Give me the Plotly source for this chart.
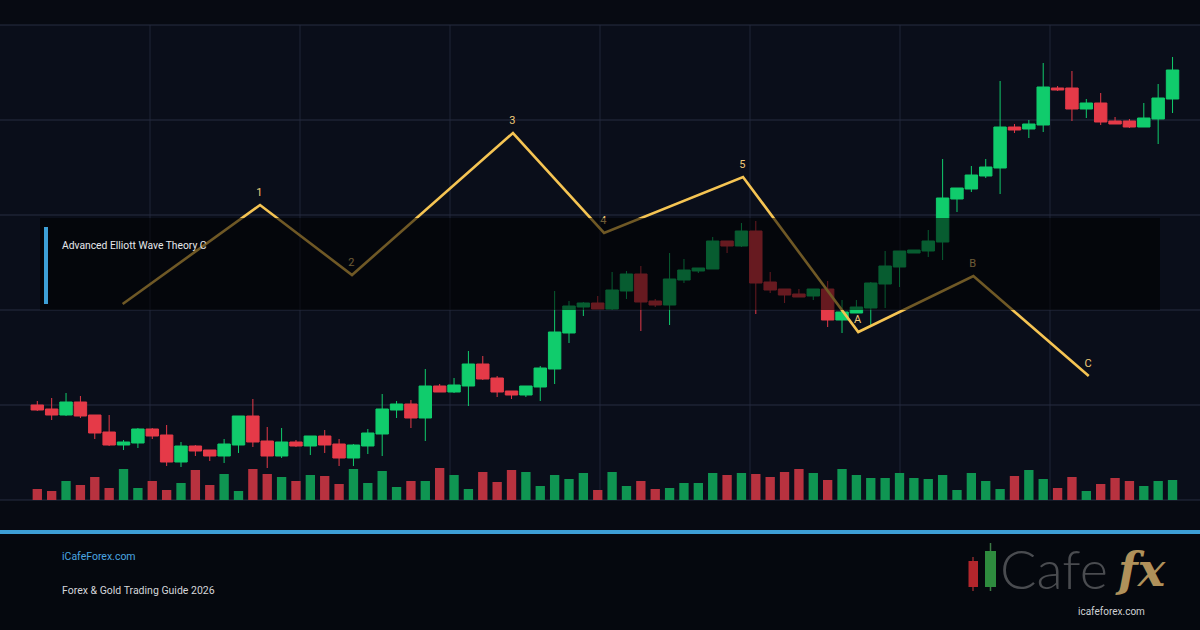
import plotly.graph_objects as go

# ---------------- data ----------------
opens = [2009.5, 2009.1, 2008.5, 2009.8, 2008.5, 2006.8, 2005.5, 2005.7, 2007.1, 2006.5,
         2003.8, 2005.4, 2005.0, 2004.4, 2005.5, 2008.4, 2005.9, 2004.4, 2005.8, 2005.4,
         2006.4, 2005.6, 2004.2, 2005.4, 2006.6, 2009.0, 2009.6, 2008.2, 2011.4, 2010.8,
         2011.4, 2013.6, 2012.2, 2010.9, 2010.5, 2011.3, 2013.1, 2016.7, 2019.3, 2019.7,
         2019.1, 2020.9, 2022.6, 2019.9, 2019.5, 2022.0, 2022.9, 2023.1, 2025.9, 2025.4,
         2026.9, 2021.8, 2021.1, 2020.6, 2020.4, 2021.1, 2018.0, 2018.7, 2019.2, 2021.6,
         2023.3, 2024.7, 2024.9, 2025.8, 2030.1, 2031.1, 2032.4, 2033.2, 2037.3, 2037.1,
         2037.5, 2041.2, 2041.2, 2039.1, 2039.7, 2037.9, 2037.9, 2037.3, 2038.1, 2040.1]
highs = [2009.9, 2010.2, 2010.7, 2010.4, 2008.5, 2008.5, 2006.0, 2007.2, 2007.2, 2007.5,
         2005.8, 2005.5, 2005.0, 2006.1, 2008.4, 2010.1, 2007.3, 2007.2, 2006.0, 2006.4,
         2007.0, 2006.1, 2005.6, 2007.1, 2010.6, 2009.9, 2010.0, 2013.1, 2011.6, 2012.2,
         2014.9, 2014.4, 2012.4, 2010.9, 2011.4, 2013.4, 2020.9, 2019.9, 2019.8, 2020.4,
         2022.8, 2022.9, 2023.4, 2020.1, 2024.7, 2024.1, 2023.2, 2026.3, 2025.9, 2027.7,
         2027.9, 2022.8, 2021.1, 2021.1, 2021.1, 2021.9, 2020.0, 2020.0, 2021.8, 2024.9,
         2024.9, 2025.0, 2027.0, 2034.1, 2031.2, 2033.4, 2034.1, 2041.9, 2037.6, 2038.0,
         2043.7, 2041.4, 2042.9, 2040.1, 2040.7, 2038.3, 2038.1, 2039.7, 2041.6, 2044.3]
lows = [2008.9, 2008.0, 2008.4, 2008.2, 2006.1, 2005.4, 2005.0, 2005.2, 2006.1, 2003.4,
        2003.3, 2004.4, 2003.9, 2003.7, 2004.7, 2005.3, 2003.2, 2004.2, 2005.3, 2004.5,
        2004.7, 2003.4, 2003.4, 2004.6, 2004.4, 2008.2, 2007.2, 2005.9, 2010.8, 2010.7,
        2009.4, 2012.0, 2010.3, 2010.1, 2010.3, 2009.9, 2011.6, 2015.7, 2018.4, 2019.1,
        2019.0, 2020.1, 2016.9, 2019.3, 2017.5, 2021.7, 2022.7, 2023.1, 2024.7, 2025.3,
        2018.6, 2020.7, 2019.7, 2020.3, 2020.0, 2017.3, 2016.7, 2018.7, 2017.3, 2019.2,
        2021.3, 2024.7, 2024.3, 2024.0, 2028.8, 2030.8, 2032.2, 2030.6, 2036.7, 2036.2,
        2036.8, 2040.9, 2037.9, 2038.2, 2037.5, 2037.6, 2037.2, 2037.3, 2035.6, 2038.7]
closes = [2009.0, 2008.5, 2009.8, 2008.4, 2006.7, 2005.5, 2005.8, 2007.1, 2006.4, 2003.8,
          2005.4, 2004.9, 2004.4, 2005.6, 2008.4, 2005.8, 2004.4, 2005.8, 2005.4, 2006.4,
          2005.5, 2004.2, 2005.5, 2006.7, 2009.1, 2009.6, 2008.2, 2011.4, 2010.8, 2011.5,
          2013.6, 2012.1, 2010.8, 2010.5, 2011.4, 2013.2, 2016.8, 2019.4, 2019.7, 2019.1,
          2021.0, 2022.6, 2019.8, 2019.5, 2022.1, 2023.0, 2023.2, 2025.9, 2025.4, 2026.9,
          2021.7, 2021.0, 2020.5, 2020.3, 2021.1, 2018.0, 2018.8, 2019.3, 2021.7, 2023.4,
          2024.9, 2025.0, 2025.9, 2030.2, 2031.2, 2032.5, 2033.3, 2037.3, 2037.0, 2037.6,
          2041.3, 2041.0, 2039.1, 2039.7, 2037.8, 2037.6, 2037.3, 2038.2, 2040.2, 2043.0]
volumes = [1100, 900, 1900, 1500, 2300, 1200, 3100, 1200, 1900, 1000,
           1700, 3000, 1500, 2600, 900, 3100, 2600, 2300, 1900, 2500,
           2400, 1600, 3100, 1700, 2900, 1300, 1900, 1900, 3200, 2500,
           1100, 2800, 1800, 3000, 2800, 1400, 2500, 2100, 2700, 1000,
           2800, 1400, 1900, 1100, 1200, 1700, 1700, 2700, 2500, 2700,
           2600, 2300, 2800, 3100, 2700, 2000, 3100, 2500, 2200, 2200,
           2700, 2200, 2100, 2500, 1000, 2700, 1900, 1100, 2400, 3000,
           2100, 1200, 2300, 900, 1600, 2200, 1900, 1400, 1900, 2000]
bars = list(range(len(opens)))

wave_x = [5.94, 15.5, 21.9, 33.1, 39.44, 49.11, 57.13, 65.14, 73.17]
wave_y = [2019.6, 2029.5, 2022.5, 2036.7, 2026.7, 2032.3, 2016.8, 2022.4, 2012.4]
wave_labels = ["", "1", "2", "3", "4", "5", "A", "B", "C"]

title_text = "Advanced Elliott Wave Theory C"
site_text = "iCafeForex.com"
guide_text = "Forex & Gold Trading Guide 2026"

# ---------------- styling ----------------
GREEN = "#10cc6c"
RED = "#e53a48"
VGREEN = "#0f9552"
VRED = "#b8323f"
GOLD = "#f5c453"
GRID = "#1f2536"
W, H = 1200, 630
TOP, BOTTOM = 25, 500


def px(x):
    return x / W


def py(y):
    return (BOTTOM - y) / (BOTTOM - TOP)


vol_colors = [VGREEN if c >= o else VRED for o, c in zip(opens, closes)]

fig = go.Figure()

fig.add_trace(go.Bar(
    x=bars, y=volumes, marker=dict(color=vol_colors, line=dict(width=0)),
    width=0.65, yaxis="y2", hoverinfo="skip", showlegend=False,
))

fig.add_trace(go.Candlestick(
    x=bars, open=opens, high=highs, low=lows, close=closes,
    increasing=dict(line=dict(color=GREEN, width=1), fillcolor=GREEN),
    decreasing=dict(line=dict(color=RED, width=1), fillcolor=RED),
    whiskerwidth=0, showlegend=False,
))

fig.add_trace(go.Scatter(
    x=wave_x, y=wave_y, mode="lines",
    line=dict(color=GOLD, width=2.6), showlegend=False, hoverinfo="skip",
))

fig.add_trace(go.Scatter(
    x=[x - 0.05 for x in wave_x], y=[y + 1.2 for y in wave_y], mode="text",
    text=wave_labels, textposition="middle center",
    textfont=dict(family="Roboto", size=11, color="#efc978"),
    showlegend=False, hoverinfo="skip",
))

shapes = []
# background of footer
shapes.append(dict(type="rect", xref="paper", yref="paper", x0=0, x1=1,
                   y0=py(630), y1=py(534), fillcolor="#05080e", line=dict(width=0),
                   layer="below"))
# grid
for k in range(1, 8):
    shapes.append(dict(type="line", xref="paper", yref="paper", x0=k / 8, x1=k / 8,
                       y0=0, y1=1, line=dict(color=GRID, width=1), layer="below"))
for yy in [25, 120, 215, 310, 405, 500]:
    shapes.append(dict(type="line", xref="paper", yref="paper", x0=0, x1=1,
                       y0=py(yy), y1=py(yy), line=dict(color="#262d40", width=1),
                       layer="below"))
# dark title panel over the chart
shapes.append(dict(type="rect", xref="paper", yref="paper", x0=px(40), x1=px(1160),
                   y0=py(310), y1=py(218), fillcolor="rgba(0,0,0,0.55)",
                   line=dict(width=0), layer="above"))
# blue accent bar
shapes.append(dict(type="rect", xref="paper", yref="paper", x0=px(44), x1=px(48),
                   y0=py(304), y1=py(227), fillcolor="#3d9fd6",
                   line=dict(width=0), layer="above"))
# footer blue rule
shapes.append(dict(type="rect", xref="paper", yref="paper", x0=0, x1=1,
                   y0=py(534), y1=py(530), fillcolor="#3d9fd6",
                   line=dict(width=0), layer="above"))
# logo candles
shapes.append(dict(type="line", xref="paper", yref="paper", x0=px(973), x1=px(973),
                   y0=py(591), y1=py(557), line=dict(color="#8a2a2c", width=1.5), layer="above"))
shapes.append(dict(type="rect", xref="paper", yref="paper", x0=px(968.5), x1=px(978),
                   y0=py(587), y1=py(561), fillcolor="#b3262c", line=dict(width=0), layer="above"))
shapes.append(dict(type="line", xref="paper", yref="paper", x0=px(990.5), x1=px(990.5),
                   y0=py(591), y1=py(543), line=dict(color="#3d7a45", width=1.5), layer="above"))
shapes.append(dict(type="rect", xref="paper", yref="paper", x0=px(985), x1=px(996),
                   y0=py(587), y1=py(551), fillcolor="#2e8b3e", line=dict(width=0), layer="above"))

annotations = [
    dict(text=title_text, x=px(60), y=py(245), xref="paper", yref="paper",
         xanchor="left", yanchor="middle", showarrow=False,
         font=dict(family="Roboto", size=10.3, color="#e6e8ec")),
    dict(text=site_text, x=px(60), y=py(556), xref="paper", yref="paper",
         xanchor="left", yanchor="middle", showarrow=False,
         font=dict(family="Roboto", size=10.5, color="#4aa6e0")),
    dict(text=guide_text, x=px(60), y=py(590), xref="paper", yref="paper",
         xanchor="left", yanchor="middle", showarrow=False,
         font=dict(family="Roboto", size=10.5, color="#d4d6da")),
    dict(text="Cafe", x=px(998), y=py(568), xref="paper", yref="paper",
         xanchor="left", yanchor="middle", showarrow=False,
         font=dict(family="Lato", size=54, color="#4a4c50", weight=300)),
    dict(text="<i><b>fx</b></i>", x=px(1140), y=py(570), xref="paper", yref="paper",
         xanchor="center", yanchor="middle", showarrow=False,
         font=dict(family="DejaVu Serif", size=46, color="#b0915a")),
    dict(text="icafeforex.com", x=px(1111), y=py(611), xref="paper", yref="paper",
         xanchor="center", yanchor="middle", showarrow=False,
         font=dict(family="Roboto", size=10, color="#cfd1d4")),
]

fig.update_layout(
    width=W, height=H,
    margin=dict(l=0, r=0, t=TOP, b=H - BOTTOM, pad=0),
    paper_bgcolor="#070a12",
    plot_bgcolor="#0a0e1a",
    showlegend=False,
    boxgap=0.07, boxgroupgap=0.07,
    xaxis=dict(range=[-2.596, 80.911], showgrid=False, zeroline=False,
               showticklabels=False, ticks="", rangeslider=dict(visible=False),
               fixedrange=True),
    yaxis=dict(range=[2000, 2047.5], showgrid=False, zeroline=False,
               showticklabels=False, ticks="", fixedrange=True),
    yaxis2=dict(range=[0, 47500], overlaying="y", showgrid=False, zeroline=False,
                showticklabels=False, ticks="", fixedrange=True),
    shapes=shapes,
    annotations=annotations,
)

fig.write_html("out.html")
